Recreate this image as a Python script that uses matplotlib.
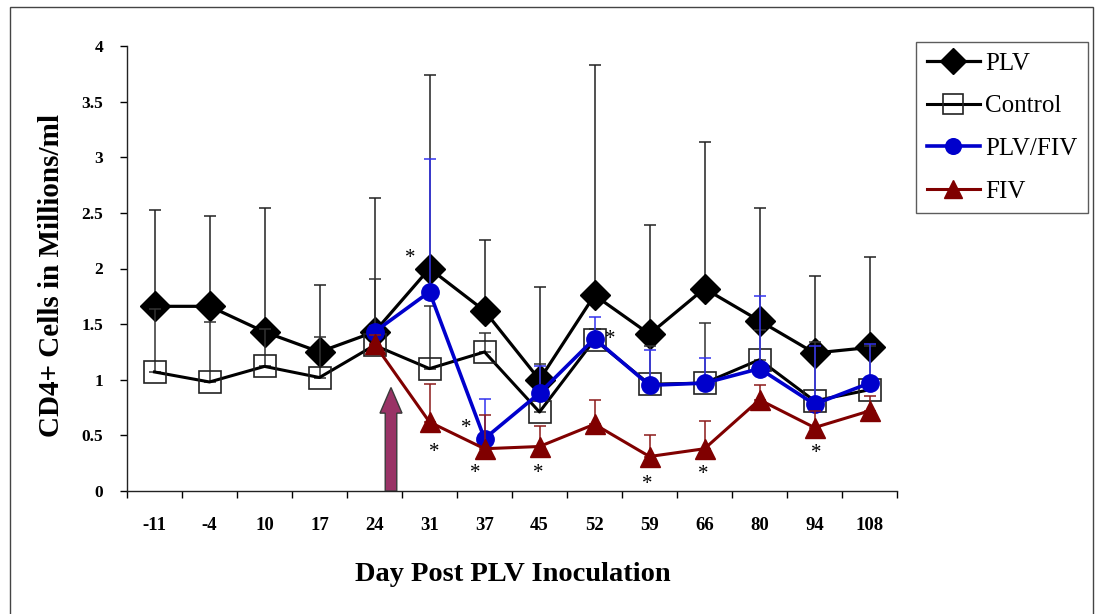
import numpy as np
import matplotlib
matplotlib.use("Agg")
import matplotlib.pyplot as plt
from matplotlib.patches import Rectangle, FancyArrow

nan = np.nan
days = ["-11", "-4", "10", "17", "24", "31", "37", "45", "52", "59", "66", "80", "94", "108"]

plv = [1.66, 1.66, 1.43, 1.25, 1.43, 2.00, 1.62, 1.00, 1.76, 1.41, 1.82, 1.53, 1.24, 1.29]
plv_top = [2.53, 2.47, 2.54, 1.85, 2.63, 3.74, 2.26, 1.83, 3.83, 2.39, 3.14, 2.54, 1.93, 2.10]

control = [1.07, 0.98, 1.12, 1.02, 1.31, 1.10, 1.25, 0.71, 1.36, 0.96, 0.97, 1.18, 0.81, 0.91]
control_top = [1.64, 1.52, 1.46, 1.38, 1.91, 1.66, 1.42, 1.14, 1.46, 1.30, 1.51, 1.45, 1.34, 1.30]

plv_fiv = [nan, nan, nan, nan, 1.43, 1.79, 0.47, 0.88, 1.37, 0.95, 0.97, 1.10, 0.78, 0.97]
plv_fiv_top = [nan, nan, nan, nan, 1.48, 2.98, 0.83, 1.12, 1.56, 1.27, 1.20, 1.75, 1.30, 1.32]

fiv = [nan, nan, nan, nan, 1.32, 0.62, 0.38, 0.40, 0.60, 0.31, 0.38, 0.82, 0.57, 0.72]
fiv_top = [nan, nan, nan, nan, 1.40, 0.96, 0.68, 0.58, 0.82, 0.50, 0.63, 0.95, 0.72, 0.85]

# significance asterisks (category position, value)
star_x = [4.65, 5.09, 5.67, 5.84, 6.98, 8.29, 8.95, 9.98, 12.04]
star_y = [2.09, 0.35, 0.56, 0.16, 0.16, 1.36, 0.06, 0.15, 0.34]

# inoculation arrow: category position and height
arrow_x = 4.3
arrow_top = 0.93

serif = ["Liberation Serif", "DejaVu Serif"]
plt.rcParams["font.family"] = serif

fig = plt.figure(figsize=(10.95, 6.14), dpi=100)
ax = fig.add_axes([127/1095, 1-491/614, 770/1095, 445/614])

x = np.arange(len(days))

def series(vals, tops, color, ecolor, marker, ms, mfc, lw, label, z):
    v = np.array(vals, dtype=float)
    t = np.array(tops, dtype=float)
    err = np.vstack([np.zeros_like(v), t - v])
    ax.errorbar(x, v, yerr=err, fmt="none", ecolor=ecolor, elinewidth=1.1,
                capsize=4.3, capthick=1.1, zorder=z)
    ax.plot(x, v, color=color, lw=lw, marker=marker, ms=ms, mfc=mfc,
            mec=color if mfc != "none" else "#222222", mew=1.2 if mfc == "none" else 1,
            label=label, zorder=z + 0.5)

series(plv, plv_top, "black", "#222222", "D", 15, "black", 2.3, "PLV", 2)
series(control, control_top, "black", "#333333", "s", 16, "none", 2.2, "Control", 3)
series(plv_fiv, plv_fiv_top, "#0000CC", "#3333EE", "o", 12.5, "#0000CC", 2.6, "PLV/FIV", 4)
series(fiv, fiv_top, "#800000", "#8B1A1A", "^", 15, "#800000", 2.2, "FIV", 5)

for sx, sy in zip(star_x, star_y):
    ax.text(sx, sy, "*", ha="center", va="center", fontsize=15, color="black", zorder=8)

arr = FancyArrow(arrow_x, 0.0, 0, arrow_top, width=0.21, head_width=0.4,
                 head_length=0.23, length_includes_head=True,
                 facecolor="#993366", edgecolor="#3a3a3a", lw=1.0, zorder=7)
ax.add_patch(arr)

ax.set_xlim(-0.5, len(days) - 0.5)
ax.set_ylim(0, 4)
ax.set_yticks(np.arange(0, 4.01, 0.5))
ax.set_yticklabels(["0", "0.5", "1", "1.5", "2", "2.5", "3", "3.5", "4"])
ax.set_xticks(x)
ax.set_xticklabels(days)
ax.set_xticks(np.arange(-0.5, len(days), 1.0), minor=True)
ax.tick_params(axis="x", which="major", length=0, pad=19, labelsize=13.5)
ax.tick_params(axis="x", which="minor", length=5, width=1, direction="out")
ax.tick_params(axis="y", which="major", length=5, width=1, direction="out", pad=12, labelsize=12.5)
for lab in ax.get_xticklabels() + ax.get_yticklabels():
    lab.set_fontweight("bold")

for s in ["top", "right"]:
    ax.spines[s].set_visible(False)
for s in ["left", "bottom"]:
    ax.spines[s].set_linewidth(1.0)
    ax.spines[s].set_color("#222222")

ax.set_xlabel("Day Post PLV Inoculation", fontsize=20.5, fontweight="bold")
ax.xaxis.set_label_coords(0.501, -0.159)
ax.set_ylabel("CD4+ Cells in Millions/ml", fontsize=21, fontweight="bold")
ax.yaxis.set_label_coords(-0.08, 0.484)

leg = fig.legend(loc="upper left", bbox_to_anchor=(916/1095, 1-42/614),
                 fontsize=18, frameon=True, fancybox=False, handlelength=2.15,
                 handletextpad=0.2, labelspacing=0.8, borderpad=0.42,
                 markerscale=0.9, borderaxespad=0)
leg.get_frame().set_edgecolor("#333333")
leg.get_frame().set_linewidth(1.0)

fig.patches.append(Rectangle((10/1095, -0.02), 1083/1095, 1.02 - 7/614,
                             transform=fig.transFigure, fill=False,
                             edgecolor="#444444", lw=1.0))

fig.savefig("out.png", dpi=100)
